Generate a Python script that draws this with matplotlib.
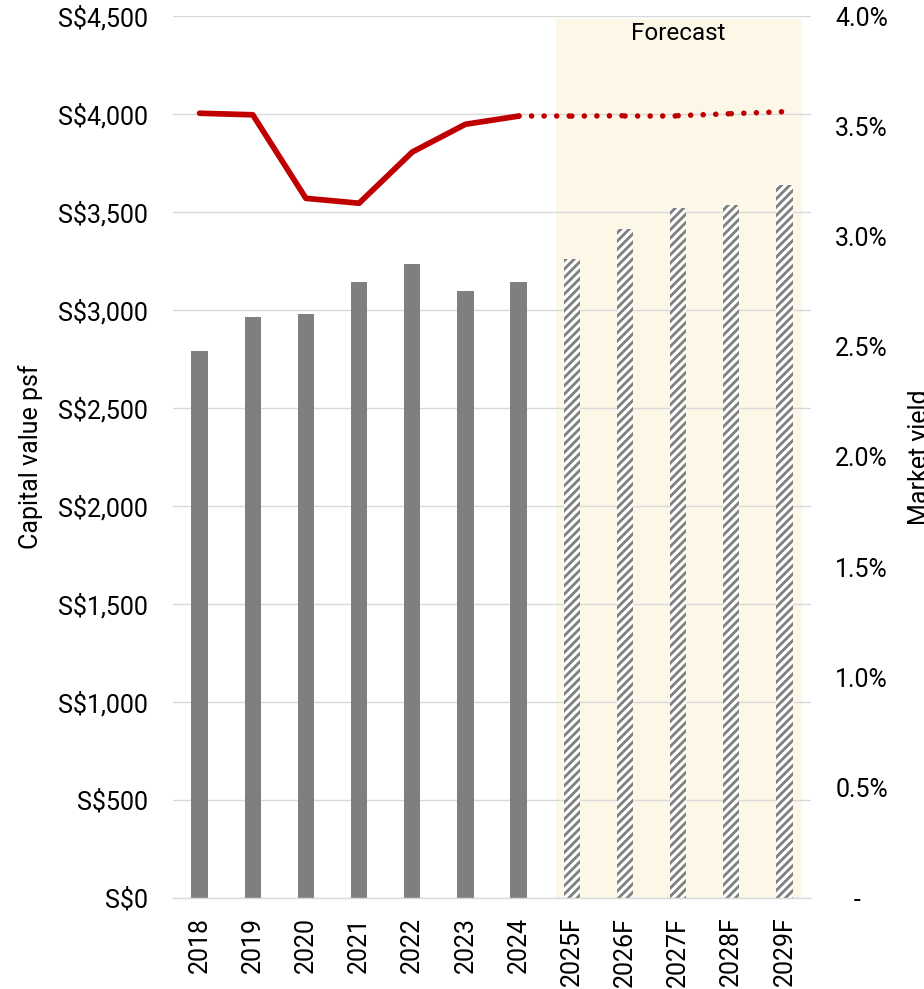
import matplotlib
matplotlib.use("Agg")
import matplotlib.pyplot as plt
import matplotlib.transforms as mtransforms
from matplotlib.ticker import FuncFormatter, MultipleLocator

plt.rcParams['font.family'] = ['Roboto', 'DejaVu Sans']
plt.rcParams['hatch.linewidth'] = 2.0

years = ['2018', '2019', '2020', '2021', '2022', '2023', '2024',
         '2025F', '2026F', '2027F', '2028F', '2029F']
capital_value = [2790, 2966, 2980, 3143, 3235, 3095, 3143,
                 3260, 3413, 3520, 3536, 3638]
market_yield = [3.559, 3.552, 3.173, 3.151, 3.383, 3.509, 3.546,
                3.546, 3.548, 3.548, 3.557, 3.566]
n_actual = 7  # 2018-2024 are actuals, the rest are forecasts

GRAY = '#7f7f7f'
RED = '#c00000'
GRID = '#d9d9d9'
FS = 18

fig = plt.figure(figsize=(9.24, 9.89), dpi=100)
ax = fig.add_axes([173 / 924, 91 / 989, 638 / 924, 882 / 989])
ax2 = ax.twinx()

x = list(range(len(years)))

# forecast shading
ax.axvspan(n_actual - 0.3, len(years) - 0.67, ymin=0, ymax=0.9966,
           color='#fdf7e8', zorder=0.2, lw=0)
ax.text(9.0, 0.993, 'Forecast', fontsize=17.5, ha='center', va='top',
        transform=mtransforms.blended_transform_factory(ax.transData, ax.transAxes))

# capital value bars
ax.bar(x[:n_actual], capital_value[:n_actual], width=0.31, color=GRAY, zorder=2)
ax.bar(x[n_actual:], capital_value[n_actual:], width=0.31, facecolor='white',
       edgecolor=GRAY, hatch='////', linewidth=0, zorder=2)

# market yield line: solid for actuals, dotted for forecast segments
ax2.plot(x[:n_actual], market_yield[:n_actual], color=RED, lw=4.1,
         solid_capstyle='round', solid_joinstyle='round')
for i in range(n_actual - 1, len(years) - 1):
    ax2.plot(x[i:i + 2], market_yield[i:i + 2], color=RED, lw=4.0,
             linestyle=(0, (0.01, 2.25)), dash_capstyle='round')

ax.set_xlim(-0.5, len(years) - 0.5)
ax.set_ylim(0, 4500)
ax2.set_ylim(0, 4.0)
ax.yaxis.set_major_locator(MultipleLocator(500))
ax2.yaxis.set_major_locator(MultipleLocator(0.5))
ax.yaxis.set_major_formatter(FuncFormatter(lambda v, p: 'S${:,.0f}'.format(v)))
ax2.yaxis.set_major_formatter(FuncFormatter(
    lambda v, p: '   -' if abs(v) < 1e-9 else '{:.1f}%'.format(v)))

ax.set_xticks(x)
ax.set_xticklabels(years, rotation=90)

ax.grid(axis='y', color=GRID, lw=1.0)
ax.set_axisbelow(True)
for s in ['top', 'left', 'right']:
    ax.spines[s].set_visible(False)
    ax2.spines[s].set_visible(False)
ax.spines['bottom'].set_color(GRID)
ax.spines['bottom'].set_linewidth(1.0)
ax2.spines['bottom'].set_visible(False)

ax.tick_params(axis='y', length=0, pad=18, labelsize=FS)
ax.tick_params(axis='x', length=0, pad=13.5, labelsize=FS)
ax2.tick_params(axis='y', length=0, pad=17.5, labelsize=FS)

ax.set_ylabel('Capital value psf', fontsize=FS)
ax.yaxis.set_label_coords(-0.204, 0.5)
ax2.set_ylabel('Market yield', fontsize=FS)
ax2.yaxis.set_label_coords(1.152, 0.5)

fig.savefig('out.png', dpi=100)
